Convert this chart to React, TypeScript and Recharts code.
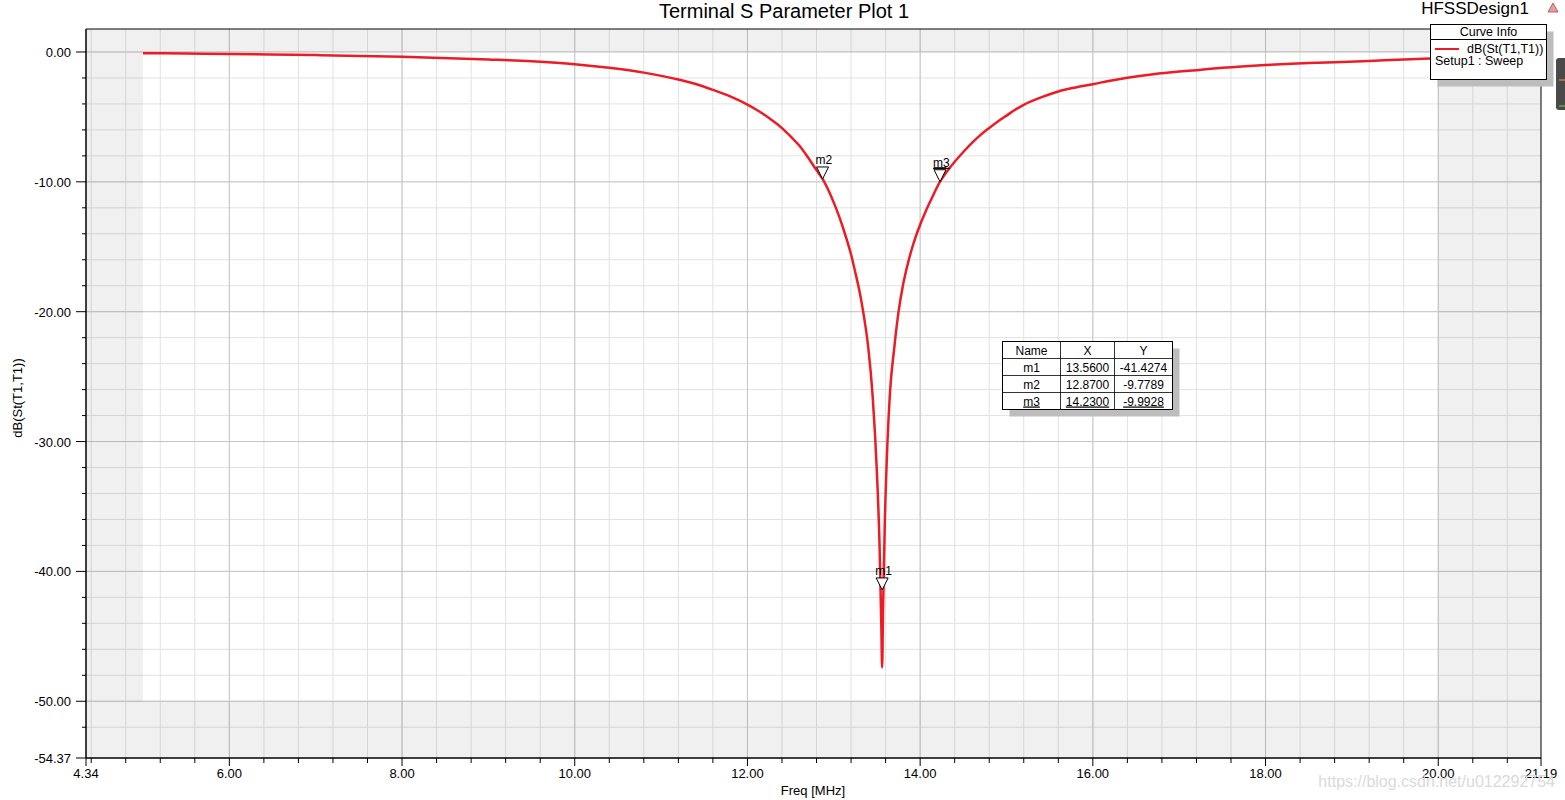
import { LineChart, Line, XAxis, YAxis, CartesianGrid, ReferenceArea, ReferenceDot } from "recharts";

// sweep frequency (MHz) and return loss (dB)
const FREQ = [
    5.0, 5.5, 6.0, 7.0, 8.0, 9.0, 9.5, 10.0, 10.4, 10.8, 11.2, 11.4, 11.6, 11.8, 12.0, 12.1,
    12.2, 12.3, 12.4, 12.5, 12.6, 12.7, 12.8, 12.87, 13.0, 13.05, 13.1, 13.15, 13.2, 13.25,
    13.3, 13.35, 13.4, 13.45, 13.5, 13.53, 13.55, 13.56, 13.57, 13.59, 13.62, 13.65, 13.7,
    13.75, 13.8, 13.85, 13.9, 13.95, 14.0, 14.05, 14.1, 14.15, 14.23, 14.3, 14.4, 14.5, 14.6,
    14.7, 14.8, 14.9, 15.0, 15.1, 15.2, 15.4, 15.6, 15.8, 16.0, 16.2, 16.4, 16.7, 17.0, 17.2,
    17.5, 18.0, 18.3, 18.6, 19.2, 19.6, 20.0,
];
const S11_DB = [
    -0.1, -0.12, -0.16, -0.24, -0.37, -0.58, -0.72, -0.94, -1.22, -1.59, -2.12, -2.47, -2.92, -3.42, -4.05, -4.43,
    -4.85, -5.33, -5.86, -6.5, -7.2, -8.1, -9.1, -9.78, -11.6, -12.45, -13.4, -14.45, -15.6, -17.0,
    -18.5, -20.4, -22.8, -26.5, -32.5, -38.0, -44.0, -47.4, -43.0, -36.5, -30.3, -26.3, -22.8,
    -20.0, -18.0, -16.5, -15.25, -14.2, -13.3, -12.5, -11.75, -11.05, -9.99, -9.3, -8.45, -7.7, -7.0,
    -6.38, -5.85, -5.35, -4.9, -4.45, -4.07, -3.5, -3.04, -2.73, -2.48, -2.21, -1.98, -1.71, -1.51, -1.4,
    -1.22, -1.0, -0.9, -0.83, -0.69, -0.58, -0.48,
];

const MARKER_NAMES = ["m1", "m2", "m3"];
const MARKER_X = [13.56, 12.87, 14.23];
const MARKER_Y = [-41.4274, -9.7789, -9.9928];

const X_MIN = 4.34;
const X_MAX = 21.19;
const Y_MIN = -54.37;
const Y_MAX = 1.77;
const X_LABEL_TICKS = [4.34, 6, 8, 10, 12, 14, 16, 18, 20, 21.19];
const Y_LABEL_TICKS = [0, -10, -20, -30, -40, -50, -54.37];
const X_MAJOR_GRID = [6, 8, 10, 12, 14, 16, 18, 20];
const Y_MAJOR_GRID = [0, -10, -20, -30, -40, -50];

const X_MINOR: number[] = [];
for (let i = 0; i <= 41; i++) X_MINOR.push(Math.round((4.4 + i * 0.4) * 100) / 100);
const Y_MINOR: number[] = [];
for (let v = 0; v >= -52; v -= 2) Y_MINOR.push(v);

const xTicks = [...X_LABEL_TICKS, ...X_MINOR.filter((v) => !X_LABEL_TICKS.includes(v))];
const yTicks = [...Y_LABEL_TICKS, ...Y_MINOR.filter((v) => !Y_LABEL_TICKS.includes(v))];

const data = FREQ.map((f, i) => ({ f, db: S11_DB[i] }));

const FONT = "'Liberation Sans', Arial, sans-serif";

function XTick(props: any) {
    const { x, y, payload } = props;
    const major = X_LABEL_TICKS.includes(payload.value) || X_MAJOR_GRID.includes(payload.value);
    const labeled = X_LABEL_TICKS.includes(payload.value);
    return (
        <g>
            <line x1={x} x2={x} y1={y} y2={y + (major ? 8 : 5)} stroke="#000" />
            {labeled && (
                <text x={x} y={y + 20} textAnchor="middle" fontSize={13} fill="#000" fontFamily={FONT}>
                    {payload.value.toFixed(2)}
                </text>
            )}
        </g>
    );
}

function YTick(props: any) {
    const { x, y, payload } = props;
    const labeled = Y_LABEL_TICKS.includes(payload.value);
    return (
        <g>
            <line x1={x - (labeled ? 10 : 4)} x2={x} y1={y} y2={y} stroke="#000" />
            {labeled && (
                <text x={x - 15} y={y + 5} textAnchor="end" fontSize={13} fill="#000" fontFamily={FONT}>
                    {payload.value.toFixed(2)}
                </text>
            )}
        </g>
    );
}

function MarkerShape(name: string) {
    return (props: any) => {
        const { cx, cy } = props;
        const sel = name === "m3";
        return (
            <g>
                <path d={`M${cx - 6},${cy - 12} L${cx + 6},${cy - 12} L${cx},${cy} Z`} fill="#fff" stroke="#000" strokeWidth={1} />
                {sel && <line x1={cx - 6} x2={cx + 6} y1={cy - 14} y2={cy - 14} stroke="#000" />}
                <text x={cx - 7} y={cy - 15} fontSize={12} fill="#000" fontFamily={FONT}
                    textDecoration={sel ? "underline" : undefined}>{name}</text>
            </g>
        );
    };
}

function Overlay() {
    const rows = MARKER_NAMES.map((n, i) => ({ n, x: MARKER_X[i].toFixed(4), y: MARKER_Y[i].toFixed(4) }));
    const tx = 1002.5, ty = 341.5, rowH = 17;
    return (
        <svg width={1565} height={800} style={{ position: "absolute", left: 0, top: 0, pointerEvents: "none" }} fontFamily={FONT}>
            <text x={784} y={18} textAnchor="middle" fontSize={20} fill="#000">Terminal S Parameter Plot 1</text>
            <text x={1475} y={14} textAnchor="middle" fontSize={17} fill="#000">HFSSDesign1</text>
            <path d="M1553,3 L1558,12 L1548,12 Z" fill="#e0a0a0" stroke="#c04040" strokeWidth={0.8} />
            <rect x={1556} y={58} width={12} height={52} rx={3} fill="#4a4a4a" />
            <line x1={1559} x2={1565} y1={80} y2={80} stroke="#e8a040" />
            <line x1={1559} x2={1565} y1={106} y2={106} stroke="#80d040" />

            <text x={813} y={795} textAnchor="middle" fontSize={13} fill="#000">Freq [MHz]</text>
            <text transform="translate(22,398) rotate(-90)" textAnchor="middle" fontSize={13} fill="#000">dB(St(T1,T1))</text>

            {/* curve info box */}
            <rect x={1437.5} y={31.5} width={116} height={55} fill="#bdbdbd" />
            <rect x={1430.5} y={24.5} width={116} height={55} fill="#fff" stroke="#000" />
            <line x1={1430.5} x2={1546.5} y1={39.5} y2={39.5} stroke="#000" />
            <text x={1488.5} y={36} textAnchor="middle" fontSize={12.5} fill="#000">Curve Info</text>
            <line x1={1435} x2={1459} y1={49} y2={49} stroke="#ed1c24" strokeWidth={2} />
            <text x={1467} y={53} fontSize={12.5} fill="#000">dB(St(T1,T1))</text>
            <text x={1435} y={65} fontSize={12.5} fill="#000">Setup1 : Sweep</text>

            {/* marker table */}
            <rect x={tx + 7} y={ty + 7} width={170} height={rowH * 4} fill="#bdbdbd" />
            <rect x={tx} y={ty} width={170} height={rowH * 4} fill="#fff" stroke="#000" />
            {[1, 2, 3].map((r) => (
                <line key={r} x1={tx} x2={tx + 170} y1={ty + rowH * r} y2={ty + rowH * r} stroke="#000" strokeWidth={0.8} />
            ))}
            <line x1={tx + 58} x2={tx + 58} y1={ty} y2={ty + rowH * 4} stroke="#000" strokeWidth={0.8} />
            <line x1={tx + 112} x2={tx + 112} y1={ty} y2={ty + rowH * 4} stroke="#000" strokeWidth={0.8} />
            <text x={tx + 29} y={ty + 13} textAnchor="middle" fontSize={12} fill="#000">Name</text>
            <text x={tx + 85} y={ty + 13} textAnchor="middle" fontSize={12} fill="#000">X</text>
            <text x={tx + 141} y={ty + 13} textAnchor="middle" fontSize={12} fill="#000">Y</text>
            {rows.map((r, i) => {
                const yy = ty + rowH * (i + 1) + 13;
                const deco = r.n === "m3" ? "underline" : undefined;
                return (
                    <g key={r.n}>
                        <text x={tx + 29} y={yy} textAnchor="middle" fontSize={12} fill="#000" textDecoration={deco}>{r.n}</text>
                        <text x={tx + 85} y={yy} textAnchor="middle" fontSize={12} fill="#000" textDecoration={deco}>{r.x}</text>
                        <text x={tx + 141} y={yy} textAnchor="middle" fontSize={12} fill="#000" textDecoration={deco}>{r.y}</text>
                    </g>
                );
            })}

            <text x={1555} y={787} textAnchor="end" fontSize={16} fill="#dadada">https://blog.csdn.net/u012292754</text>
        </svg>
    );
}

export default function App() {
    return (
        <div style={{ position: "absolute", left: 0, top: 0, width: 1565, height: 800, background: "#fff", fontFamily: FONT }}>
            <LineChart width={1565} height={800} data={data} margin={{ top: 29, right: 24, bottom: 0, left: 0 }}>
                <CartesianGrid fill="#fff" stroke="#e2e2e2" verticalValues={X_MINOR} horizontalValues={Y_MINOR} />
                <CartesianGrid stroke="#c6c6c6" fill="none" verticalValues={X_MAJOR_GRID} horizontalValues={Y_MAJOR_GRID} />
                <XAxis
                    dataKey="f"
                    type="number"
                    domain={[X_MIN, X_MAX]}
                    ticks={xTicks}
                    interval={0}
                    allowDataOverflow
                    height={42}
                    tickSize={0}
                    tickMargin={0}
                    tickLine={false}
                    stroke="#000"
                    tick={<XTick />}
                />
                <YAxis
                    type="number"
                    domain={[Y_MIN, Y_MAX]}
                    ticks={yTicks}
                    interval={0}
                    allowDataOverflow
                    width={86}
                    tickSize={0}
                    tickMargin={0}
                    tickLine={false}
                    stroke="#000"
                    tick={<YTick />}
                />
                {/* shaded regions outside the swept range */}
                <ReferenceArea x1={X_MIN} x2={5} y1={Y_MIN} y2={Y_MAX} fill="#000" fillOpacity={0.06} stroke="none" />
                <ReferenceArea x1={20} x2={X_MAX} y1={Y_MIN} y2={Y_MAX} fill="#000" fillOpacity={0.06} stroke="none" />
                <ReferenceArea x1={5} x2={20} y1={Y_MIN} y2={-50} fill="#000" fillOpacity={0.06} stroke="none" />
                <ReferenceArea x1={5} x2={20} y1={0} y2={Y_MAX} fill="#000" fillOpacity={0.06} stroke="none" />
                <ReferenceArea x1={X_MIN} x2={X_MAX} y1={Y_MIN} y2={Y_MAX} fill="none" stroke="#000" strokeWidth={1} />
                <Line
                    dataKey="db"
                    type="monotoneX"
                    stroke="#ed1c24"
                    strokeWidth={2.5}
                    dot={false}
                    isAnimationActive={false}
                />
                {MARKER_NAMES.map((n, i) => (
                    <ReferenceDot key={n} x={MARKER_X[i]} y={MARKER_Y[i]} r={6} shape={MarkerShape(n)} />
                ))}
            </LineChart>
            <Overlay />
        </div>
    );
}
